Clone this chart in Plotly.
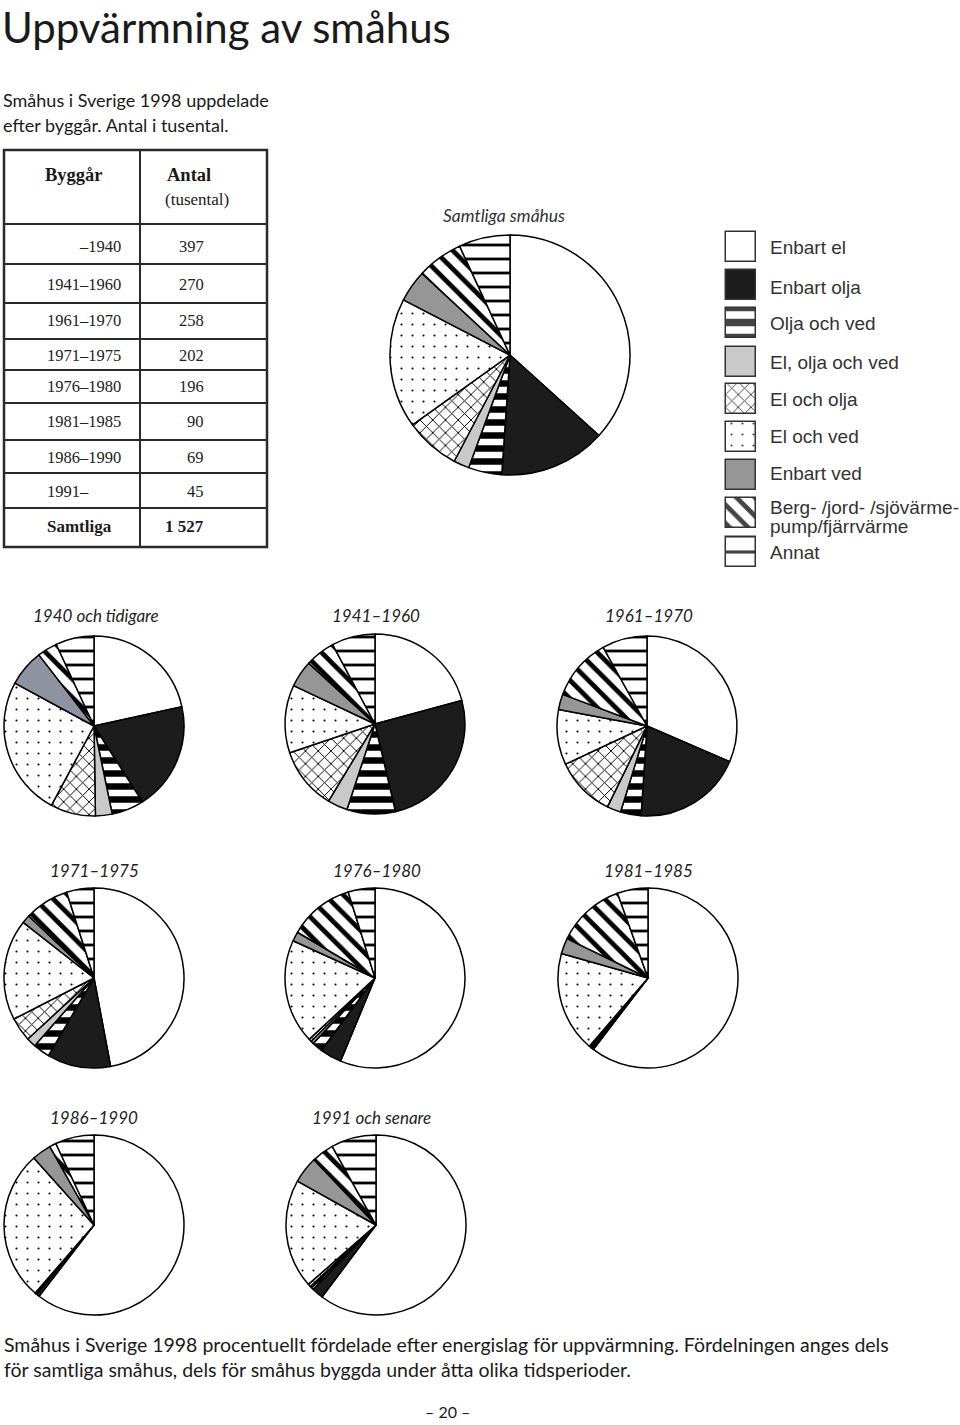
import plotly.graph_objects as go

W, H = 960, 1425

# ---------------- data ----------------
categories = ["Enbart el", "Enbart olja", "Olja och ved", "El, olja och ved", "El och olja",
              "El och ved", "Enbart ved", "Berg- /jord- /sjövärme-pump/fjärrvärme", "Annat"]

periods = ["–1940", "1941–1960", "1961–1970", "1971–1975", "1976–1980", "1981–1985", "1986–1990", "1991–"]
antal_tusental = [397, 270, 258, 202, 196, 90, 69, 45]
antal_total = "1 527"

share_samtliga = [36.7, 14.4, 4.5, 2.1, 7.4, 17.5, 4.3, 6.2, 6.9]
share_1940 = [21.6, 19.4, 5.8, 3.0, 8.1, 25.1, 6.6, 3.6, 6.9]
share_1941_1960 = [20.8, 25.6, 8.7, 3.6, 11.2, 12.2, 4.8, 5.4, 7.8]
share_1961_1970 = [31.5, 19.6, 3.7, 2.5, 10.8, 9.9, 2.8, 11.2, 8.1]
share_1971_1975 = [47.0, 11.4, 3.0, 1.7, 4.3, 18.1, 1.5, 8.0, 4.9]
share_1976_1980 = [56.2, 3.9, 1.9, 0.5, 0.5, 18.7, 1.7, 11.7, 4.8]
share_1981_1985 = [60.4, 0.2, 0.3, 0.1, 0.3, 18.1, 2.8, 12.3, 5.5]
share_1986_1990 = [60.7, 0.6, 0.1, 0.1, 0.1, 27.1, 3.5, 1.2, 7.0]
share_1991 = [60.3, 2.1, 0.4, 0.3, 0.5, 19.6, 4.8, 4.0, 8.1]

small_titles = ["1940 och tidigare", "1941–1960", "1961–1970", "1971–1975", "1976–1980",
                "1981–1985", "1986–1990", "1991 och senare"]
small_shares = [share_1940, share_1941_1960, share_1961_1970, share_1971_1975, share_1976_1980,
                share_1981_1985, share_1986_1990, share_1991]

# ---------------- styles ----------------
base_colors = ["white", "#1c1c1c", "white", "#c9c9c9", "white", "white", "#969696", "white", "white"]
pat_shape = ["", "", "-", "", "x", ".", "", "\\", "-"]
pat_size = [8, 8, 13, 8, 9, 11, 8, 13, 14]
pat_solid = [0.3, 0.3, 0.5, 0.3, 0.2, 0.03, 0.3, 0.36, 0.2]
pat_fg = ["black"] * 9


def px(x):
    return x / W


def py(y):
    return 1 - y / H


def dom(cx, cy, r):
    return dict(x=[max(0.0, px(cx - r)), min(1.0, px(cx + r))], y=[py(cy + r), py(cy - r)])


fig = go.Figure()


def add_pie(values, cx, cy, r, colors=base_colors):
    fig.add_trace(go.Pie(
        labels=categories, values=values, sort=False, direction="clockwise", rotation=0,
        textinfo="none", hoverinfo="label+percent", domain=dom(cx, cy, r),
        marker=dict(colors=colors, line=dict(color="black", width=1.5),
                    pattern=dict(shape=pat_shape, size=pat_size, solidity=pat_solid,
                                 fgcolor=pat_fg, bgcolor=list(colors), fgopacity=1)),
    ))


add_pie(share_samtliga, 510, 355, 120)

centers = [(94, 726), (375, 724), (647, 726), (94, 978), (375, 978), (648, 978), (94, 1225), (376, 1225)]
title_pos = [(96, 615), (376, 615), (649, 615), (94, 870), (377, 870), (648, 870), (94, 1117), (371, 1117)]
for i, vals in enumerate(small_shares):
    cols = list(base_colors)
    if i == 0:
        cols[6] = "#8e93a1"
    cx, cy = centers[i]
    add_pie(vals, cx, cy, 90, cols)

# legend boxes (bars on a pixel-scaled hidden axis)
leg_y = [246.5, 285, 323, 362, 398.5, 437, 475, 513, 552]
fig.add_trace(go.Bar(
    orientation="h", y=leg_y, x=[30] * 9, base=[726] * 9, width=[30] * 9,
    marker=dict(color=base_colors, line=dict(color="#333", width=1.5),
                pattern=dict(shape=pat_shape, size=[8, 8, 15, 8, 9, 11, 8, 13, 16],
                             solidity=pat_solid, fgcolor=pat_fg, bgcolor=list(base_colors),
                             fgopacity=1)),
    hoverinfo="skip", showlegend=False,
))

ann = []


def text(x, y, s, size, font="Liberation Sans", color="#222", xanchor="left", bold=False, italic=False):
    if bold:
        s = "<b>" + s + "</b>"
    if italic:
        s = "<i>" + s + "</i>"
    ann.append(dict(x=px(x), y=py(y), xref="paper", yref="paper", text=s, showarrow=False,
                    xanchor=xanchor, yanchor="middle", font=dict(family=font, size=size, color=color)))


# title and subtitle
text(0, 27, "Uppvärmning av småhus", 42, font="Lato", color="#1a1a1a")
text(1, 100, "Småhus i Sverige 1998 uppdelade", 18, font="Lato", color="#1a1a1a")
text(1, 125, "efter byggår. Antal i tusental.", 18, font="Lato", color="#1a1a1a")

# table
serif = "Liberation Serif"
text(43, 175, "Byggår", 18.5, font=serif, color="#1a1a1a", bold=True)
text(165, 175, "Antal", 18.5, font=serif, color="#1a1a1a", bold=True)
text(163, 199, "(tusental)", 17, font=serif, color="#1a1a1a")
row_y = [246, 285, 320, 355, 387, 422, 457, 491]
for i, (p, a) in enumerate(zip(periods, antal_tusental)):
    if i == 0:
        text(123, row_y[i], p, 16.5, font=serif, xanchor="right")
    else:
        text(45, row_y[i], p, 16.5, font=serif)
    text(206, row_y[i], str(a), 16.5, font=serif, xanchor="right")
text(45, 527, "Samtliga", 17, font=serif, color="#1a1a1a", bold=True)
text(206, 527, antal_total, 17, font=serif, color="#1a1a1a", xanchor="right", bold=True)

shapes = []


def line(x0, y0, x1, y1, w=2):
    shapes.append(dict(type="line", xref="paper", yref="paper", x0=px(x0), y0=py(y0), x1=px(x1), y1=py(y1),
                       line=dict(color="#2a2a2a", width=w)))


shapes.append(dict(type="rect", xref="paper", yref="paper", x0=px(4), y0=py(547), x1=px(267), y1=py(150),
                   line=dict(color="#2a2a2a", width=2.5)))
line(140, 150, 140, 547)
for yy in [224, 264, 303, 339, 370, 403, 440, 473, 508]:
    line(4, yy, 267, yy)

# main pie title
text(504, 215, "Samtliga småhus", 17.5, font="Lato", color="#333", xanchor="center", italic=True)

# legend text
leg_text_y = [248, 287, 324, 362, 399, 437, 474, None, 552]
for i, c in enumerate(categories):
    if leg_text_y[i] is None:
        continue
    text(768, leg_text_y[i], c, 19, color="#333")
text(768, 508, "Berg- /jord- /sjövärme-", 19, color="#333")
text(768, 527, "pump/fjärrvärme", 19, color="#333")

# small pie titles
for t, (x, y) in zip(small_titles, title_pos):
    text(x, y, t, 17, font="Lato", color="#222", xanchor="center", italic=True)

# caption
text(2, 1344, "Småhus i Sverige 1998 procentuellt fördelade efter energislag för uppvärmning. Fördelningen anges dels",
     19.5, font="Lato", color="#1a1a1a")
text(2, 1369, "för samtliga småhus, dels för småhus byggda under åtta olika tidsperioder.",
     19.5, font="Lato", color="#1a1a1a")
text(447, 1411, "– 20 –", 16, font="Lato", color="#1a1a1a", xanchor="center")

fig.update_layout(
    width=W, height=H, margin=dict(l=0, r=0, t=0, b=0),
    paper_bgcolor="white", plot_bgcolor="rgba(0,0,0,0)", showlegend=False,
    xaxis=dict(domain=[0, 1], range=[0, W], visible=False, fixedrange=True),
    yaxis=dict(domain=[0, 1], range=[H, 0], visible=False, fixedrange=True),
    annotations=ann, shapes=shapes, bargap=0,
)

fig.write_html("out.html", config={"displayModeBar": False},
               post_script="document.body.style.margin='0';document.body.style.overflow='hidden';")
